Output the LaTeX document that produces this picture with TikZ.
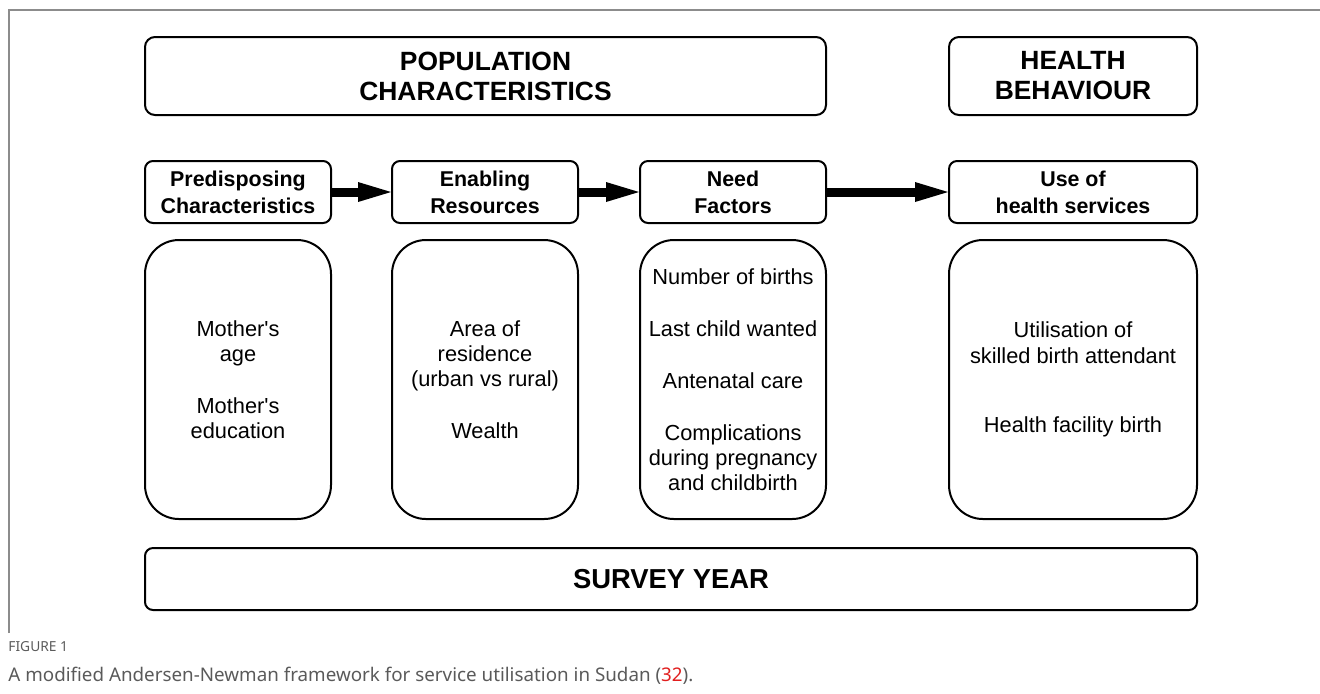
\documentclass[tikz,border=0pt]{standalone}
\usepackage{fontspec}
\setmainfont{Liberation Sans}
\newfontfamily\capfont{Noto Sans}
\usetikzlibrary{arrows.meta}
\usetikzlibrary{positioning}

\definecolor{capgray}{RGB}{90,90,90}
\definecolor{framegray}{RGB}{140,140,140}
\definecolor{refred}{RGB}{225,30,30}

\begin{document}
\begin{tikzpicture}[x=0.5pt, y=-0.5pt,
    title/.style = {draw, line width=1pt, rounded corners=5pt, align=center, inner sep=0pt,
        minimum height=39pt, font=\bfseries\fontsize{13.2}{15}\selectfont},
    head/.style = {draw, line width=1pt, rounded corners=4pt, align=center, inner sep=0pt,
        minimum height=31pt, font=\bfseries\fontsize{10.7}{13.5}\selectfont},
    content/.style = {draw, line width=1pt, rounded corners=17pt, align=center, inner sep=0pt,
        minimum height=139.5pt, font=\fontsize{10.9}{12.6}\selectfont},
    fat/.style = {line width=4.5pt, -{Triangle[length=16.5pt, width=10pt, line width=0pt]}}]
    \useasboundingbox (0,0) rectangle (1320,693);
    \draw[framegray, line width=0.6pt] (9,633) -- (9,10) -- (1320,10);

    \node[title, minimum width=340.5pt] (pop) at (485.5,76) {POPULATION\\CHARACTERISTICS};
    \node[title, minimum width=124pt] (beh) at (1073,76) {HEALTH\\BEHAVIOUR};

    \node[head, minimum width=93pt] (pre) at (238,192) {Predisposing\\Characteristics};
    \node[head, minimum width=93pt] (ena) at (485,192) {Enabling\\Resources};
    \node[head, minimum width=93pt] (need) at (733,192) {Need\\Factors};
    \node[head, minimum width=124pt] (use) at (1073,192) {Use of\\health services};

    \node[content, minimum width=93pt, below=7.5pt of pre] (prebox)
        {Mother\textquotesingle s\\age\\[13.4pt]Mother\textquotesingle s\\education};
    \node[content, minimum width=93pt, below=7.5pt of ena] (enabox)
        {Area of\\residence\\(urban vs rural)\\[13.4pt]Wealth};
    \node[content, minimum width=93pt, below=7.5pt of need] (needbox)
        {Number of births\\[13.4pt]Last child wanted\\[13.4pt]Antenatal care\\[13.4pt]%
         Complications\\during pregnancy\\and childbirth};
    \node[content, minimum width=124pt, below=7.5pt of use] (usebox)
        {Utilisation of\\skilled birth attendant\\[22pt]Health facility birth};

    \node[head, minimum width=526pt, font=\bfseries\fontsize{13.7}{16}\selectfont] (year)
        at (671,579) {SURVEY YEAR};

    \draw[fat] (pre) -- (ena);
    \draw[fat] (ena) -- (need);
    \draw[fat] (need) -- (use);

    \node[anchor=west, inner sep=0pt, text=capgray, font=\capfont\bfseries\fontsize{6.9}{8}\selectfont]
        (fig) at (8,647) {FIGURE 1};
    \node[anchor=west, inner sep=0pt, text=capgray, font=\capfont\fontsize{9.4}{11}\selectfont]
        (cap) at (8,676) {A modified Andersen-Newman framework for service utilisation in Sudan (\textcolor{refred}{32}).};
\end{tikzpicture}
\end{document}
